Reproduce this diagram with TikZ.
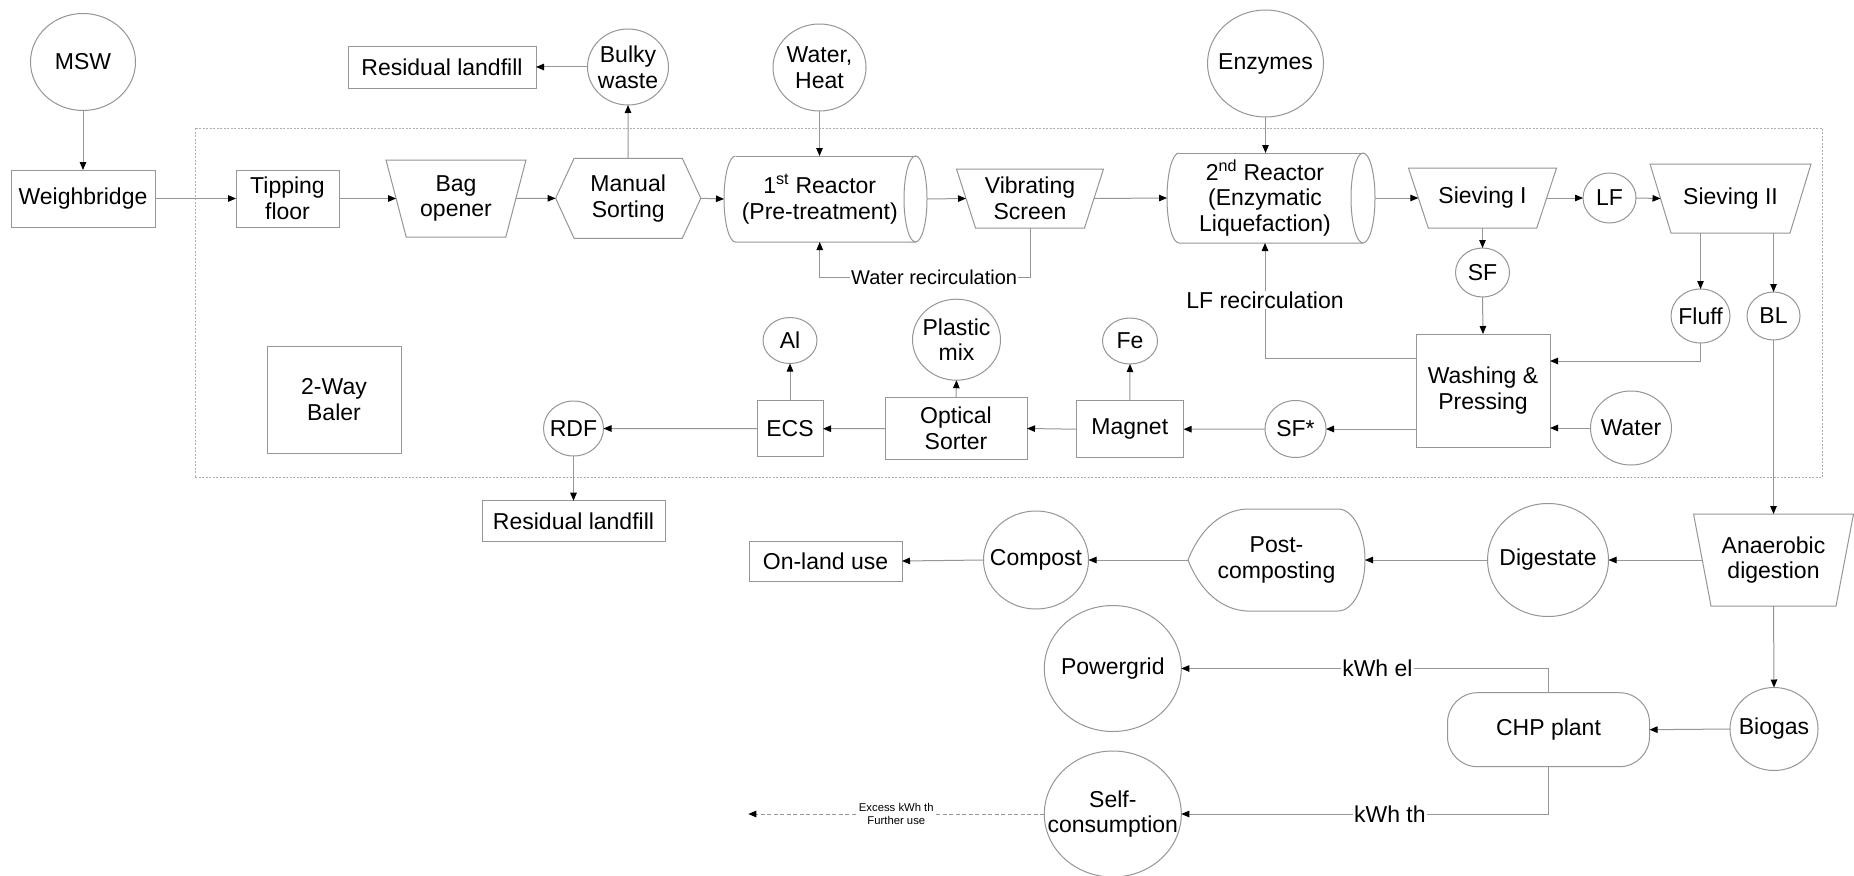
\documentclass[tikz,border=0pt]{standalone}
\usepackage{fontspec}
\setmainfont{Liberation Sans}
\usetikzlibrary{shapes.geometric,arrows.meta,calc}

\definecolor{linegray}{RGB}{150,150,150}
\definecolor{framegray}{RGB}{175,175,175}

\newcommand{\dfmain}{\fontsize{23}{25.6}\selectfont}
\newcommand{\dfsmall}{\fontsize{20}{23}\selectfont}
\newcommand{\dftiny}{\fontsize{11.3}{13}\selectfont}

\begin{document}
\begin{tikzpicture}[x=1pt,y=-1pt,
  outline/.style={draw=linegray, line width=1pt},
  flow/.style={draw=linegray, line width=1pt, -{Triangle[length=8pt,width=6.5pt,color=black,fill=black]}},
  box/.style={rectangle, draw=linegray, line width=1pt, inner sep=0pt, outer sep=0pt, align=center, font=\dfmain},
  % ovals keep their given size whatever the width of their text
  oval/.style={ellipse, draw=linegray, line width=1pt, inner xsep=-100pt, inner ysep=0pt, outer sep=0pt, align=center, font=\dfmain},
  ghost/.style={rectangle, inner sep=0pt, outer sep=0pt, align=center, font=\dfmain},
  tag/.style={fill=white, inner sep=1pt, font=\dfmain},
  smalltag/.style={fill=white, inner sep=1pt, font=\dfsmall},
  tinytag/.style={fill=white, inner sep=1pt, align=center, font=\dftiny},
  frame/.style={draw=framegray, line width=0.8pt, dash pattern=on 2pt off 1.5pt}]

\fill[white] (0,0) rectangle (1854,875);
\useasboundingbox (0,0) rectangle (1854,875);

% plant boundary
\draw[frame] (195,128) rectangle (1822.5,477.7);

% ---------- inputs and top row ----------
\node[oval, minimum width=105pt, minimum height=97pt] (msw) at (83,62) {MSW};
\node[box, minimum width=144pt, minimum height=57pt] (wb) at (83,198.5) {Weighbridge};
\node[box, minimum width=188pt, minimum height=41pt] (rl1) at (442,67.5) {Residual landfill};
\node[oval, minimum width=81pt, minimum height=76pt] (bulky) at (628,67) {Bulky\\waste};
\node[oval, minimum width=93pt, minimum height=87pt] (wh) at (819.5,67.5) {Water,\\Heat};
\node[oval, minimum width=116pt, minimum height=107pt] (enz) at (1265.5,63.5) {Enzymes};

% ---------- main process line ----------
\node[box, minimum width=103pt, minimum height=57pt] (tip) at (287.5,198.5) {Tipping\\floor};

\node[ghost, minimum width=119.8pt, minimum height=77pt] (bag) at (456,198.5) {Bag\\opener};
\draw[outline] ($(bag.north west)+(-10.1,0)$) -- ($(bag.north east)+(10.1,0)$)
  -- ($(bag.south east)+(-10.1,0)$) -- ($(bag.south west)+(10.1,0)$) -- cycle;

\node[ghost, minimum width=145.2pt, minimum height=80pt] (ms) at (628.2,198.3) {Manual\\Sorting};
\draw[outline] (ms.west) -- ($(ms.north west)+(18.5,0)$) -- ($(ms.north east)+(-18.5,0)$)
  -- (ms.east) -- ($(ms.south east)+(-18.5,0)$) -- ($(ms.south west)+(18.5,0)$) -- cycle;

\node[ghost, minimum width=191.5pt, minimum height=86pt] (r1) at (819.75,199) {1\textsuperscript{st} Reactor\\(Pre-treatment)};
\draw[outline] ($(r1.north west)+(11.5,0)$) arc[start angle=90, end angle=270, x radius=11.5pt, y radius=43pt]
  -- (r1.south east);
\draw[outline] ($(r1.north west)+(11.5,0)$) -- (r1.north east);
\draw[outline] (r1.east) ellipse[x radius=11.5pt, y radius=43pt];

\node[ghost, minimum width=128pt, minimum height=59pt] (vib) at (1030,198.5) {Vibrating\\Screen};
\draw[outline] ($(vib.north west)+(-9.5,0)$) -- ($(vib.north east)+(9.5,0)$)
  -- ($(vib.south east)+(-9.5,0)$) -- ($(vib.south west)+(9.5,0)$) -- cycle;

\node[ghost, minimum width=196pt, minimum height=90pt] (r2) at (1265,198) {2\textsuperscript{nd} Reactor\\(Enzymatic\\Liquefaction)};
\draw[outline] ($(r2.north west)+(12,0)$) arc[start angle=90, end angle=270, x radius=12pt, y radius=45pt]
  -- (r2.south east);
\draw[outline] ($(r2.north west)+(12,0)$) -- (r2.north east);
\draw[outline] (r2.east) ellipse[x radius=12pt, y radius=45pt];

\node[ghost, minimum width=128.3pt, minimum height=60pt] (s1) at (1482.5,198) {Sieving I};
\draw[outline] ($(s1.north west)+(-9.9,0)$) -- ($(s1.north east)+(9.9,0)$)
  -- ($(s1.south east)+(-9.9,0)$) -- ($(s1.south west)+(9.9,0)$) -- cycle;

\node[oval, minimum width=53pt, minimum height=50pt] (lf) at (1609.5,198) {LF};

\node[ghost, minimum width=140pt, minimum height=69pt] (s2) at (1730.5,198.5) {Sieving II};
\draw[outline] ($(s2.north west)+(-10.5,0)$) -- ($(s2.north east)+(10.5,0)$)
  -- ($(s2.south east)+(-10.5,0)$) -- ($(s2.south west)+(10.5,0)$) -- cycle;

% ---------- washing and sorting line ----------
\node[oval, minimum width=54pt, minimum height=49pt] (sf) at (1482.5,272.5) {SF};
\node[oval, minimum width=59pt, minimum height=54pt] (fluff) at (1700.5,316) {Fluff};
\node[oval, minimum width=53pt, minimum height=48pt] (bl) at (1773.5,316) {BL};
\node[box, minimum width=134pt, minimum height=113pt] (wash) at (1483,390.5) {Washing \&\\Pressing};
\node[oval, minimum width=81pt, minimum height=74pt] (water) at (1631,428) {Water};
\node[oval, minimum width=61pt, minimum height=57pt] (sfs) at (1295.5,429) {SF*};
\node[box, minimum width=107.5pt, minimum height=57pt] (mag) at (1129.8,429.2) {Magnet};
\node[oval, minimum width=55pt, minimum height=46pt] (fe) at (1130,341) {Fe};
\node[box, minimum width=142pt, minimum height=61.6pt] (opt) at (956,428.5) {Optical\\Sorter};
\node[oval, minimum width=88pt, minimum height=81pt] (pm) at (956.5,339.7) {Plastic\\mix};
\node[box, minimum width=66pt, minimum height=56pt] (ecs) at (790,428.7) {ECS};
\node[oval, minimum width=54pt, minimum height=46pt] (al) at (790,340.5) {Al};
\node[oval, minimum width=60pt, minimum height=55pt] (rdf) at (573.5,428.5) {RDF};
\node[box, minimum width=134pt, minimum height=107pt] (baler) at (334,399.7) {2-Way\\Baler};
\node[box, minimum width=183pt, minimum height=41pt] (rl2) at (573.5,521.2) {Residual landfill};

% ---------- digestion and energy ----------
\node[ghost, minimum width=142.5pt, minimum height=92pt] (ad) at (1773.5,560) {Anaerobic\\digestion};
\draw[outline] ($(ad.north west)+(-8.75,0)$) -- ($(ad.north east)+(8.75,0)$)
  -- ($(ad.south east)+(-8.75,0)$) -- ($(ad.south west)+(8.75,0)$) -- cycle;

\node[oval, minimum width=121pt, minimum height=113pt] (dig) at (1548,560) {Digestate};

\node[ghost, minimum width=177pt, minimum height=102pt] (post) at (1276.5,560) {Post-\\composting};
\draw[outline, shift={(post.center)}] (-88.5,0) .. controls (-76,-32) and (-54,-50) .. (-29.5,-51)
  -- (61.5,-51) arc[start angle=90, end angle=-90, x radius=27pt, y radius=51pt]
  -- (-29.5,51) .. controls (-54,50) and (-76,32) .. (-88.5,0) -- cycle;

\node[oval, minimum width=105pt, minimum height=98pt] (comp) at (1036,560) {Compost};
\node[box, minimum width=153pt, minimum height=40pt] (onl) at (825.5,561) {On-land use};
\node[oval, minimum width=88pt, minimum height=83pt] (bg) at (1774,729) {Biogas};
\node[box, rounded corners=30pt, minimum width=202pt, minimum height=74pt] (chp) at (1548.5,729.7) {CHP plant};
\node[oval, minimum width=137pt, minimum height=126pt] (pg) at (1112.8,668.5) {Powergrid};
\node[oval, minimum width=137pt, minimum height=126pt] (sc) at (1112.8,814) {Self-\\consumption};
\coordinate (excess) at (748.3,814);

% ---------- connectors ----------
\draw[flow] (msw.south) -- (wb.north);
\draw[flow] (wb.east) -- (tip.west);
\draw[flow] (tip.east) -- (bag.west);
\draw[flow] (bag.east) -- (ms.west);
\draw[flow] (ms.north) -- (bulky.south);
\draw[flow] (bulky.west) -- (bulky.west -| rl1.east);
\draw[flow] (ms.east) -- (r1.west);
\draw[flow] (wh.south) -- (wh.south |- r1.north);
\draw[flow] ($(r1.east)+(11.5,0)$) -- (vib.west);
\draw[flow] (vib.south) -- ++(0,49.5) -| node[pos=0.228, smalltag] {Water recirculation} (r1.south);
\draw[flow] (vib.east) -- (r2.west);
\draw[flow] (enz.south) -- (enz.south |- r2.north);
\draw[flow] ($(r2.east)+(12,0)$) -- (s1.west);
\draw[flow] (s1.east) -- (lf.west);
\draw[flow] (lf.east) -- (s2.west);
\draw[flow] (s1.south) -- (sf.north);
\draw[flow] (sf.south) -- (wash.north);
\draw[flow] (s2.south -| fluff.north) -- (fluff.north);
\draw[flow] (s2.south -| bl.north) -- (bl.north);
\draw[flow] (fluff.south) |- ($(wash.east)+(0,-29.5)$);
\draw[flow] (water.west) -- (water.west -| wash.east);
\draw[flow] ($(wash.west)+(0,-32.5)$) -| node[pos=0.752, tag] {LF recirculation} (r2.south);
\draw[flow] (sfs.east -| wash.west) -- (sfs.east);
\draw[flow] (sfs.west) -- (mag.east);
\draw[flow] (mag.west) -- (opt.east);
\draw[flow] (opt.west) -- (ecs.east);
\draw[flow] (ecs.west) -- (rdf.east);
\draw[flow] (rdf.south) -- (rl2.north);
\draw[flow] (ecs.north) -- (al.south);
\draw[flow] (opt.north) -- (pm.south);
\draw[flow] (mag.north) -- (fe.south);
\draw[flow] (bl.south) -- (bl.south |- ad.north);
\draw[flow] (ad.west) -- (dig.east);
\draw[flow] (dig.west) -- (post.east);
\draw[flow] (post.west) -- (comp.east);
\draw[flow] (comp.west) -- (onl.east);
\draw[flow] (ad.south) -- (bg.north);
\draw[flow] (bg.west) -- (chp.east);
\draw[flow] (chp.north) |- node[pos=0.733, tag] {kWh el} (pg.east);
\draw[flow] (chp.south) |- node[pos=0.716, tag] {kWh th} (sc.east);
\draw[flow, dash pattern=on 4pt off 2.5pt] (sc.west) -- node[tinytag] {Excess kWh th\\Further use} (excess);

\end{tikzpicture}
\end{document}
